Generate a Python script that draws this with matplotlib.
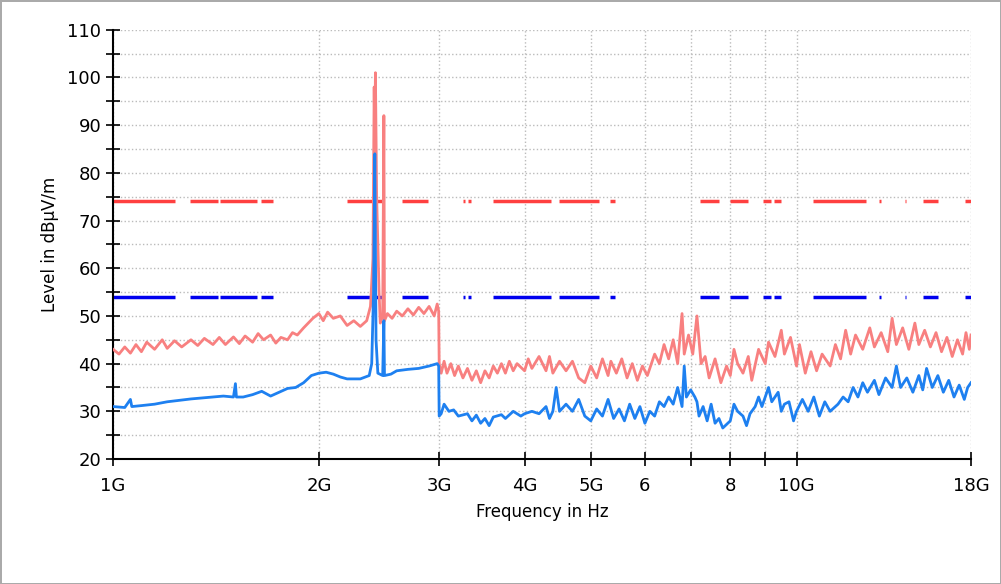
import numpy as np
import matplotlib
matplotlib.use('Agg')
import matplotlib.pyplot as plt
from matplotlib.ticker import FixedLocator, NullLocator

# peak trace (GHz, dBuV/m)
peak_f = [1.0, 1.02, 1.04, 1.06, 1.08, 1.1, 1.12, 1.15, 1.18, 1.2, 1.23, 1.26, 1.3, 1.33, 1.36, 1.4, 1.43, 1.46,
          1.5, 1.53, 1.56, 1.6, 1.63, 1.66, 1.7, 1.73, 1.76, 1.8, 1.83, 1.86, 1.9, 1.93, 1.96, 2.0, 2.03, 2.06,
          2.1, 2.15, 2.2, 2.25, 2.3, 2.35, 2.38, 2.40, 2.41, 2.415, 2.42, 2.43, 2.44, 2.45, 2.46, 2.48, 2.49,
          2.495, 2.52, 2.56, 2.6, 2.65, 2.7, 2.75, 2.8, 2.85, 2.9, 2.95, 2.98, 2.995, 3.0, 3.02, 3.05, 3.08,
          3.12, 3.16, 3.2, 3.25, 3.3, 3.35, 3.4, 3.45, 3.5, 3.55, 3.6, 3.65, 3.7, 3.75, 3.8, 3.85, 3.9, 4.0,
          4.05, 4.1, 4.2, 4.3, 4.35, 4.4, 4.5, 4.6, 4.7, 4.8, 4.9, 5.0, 5.1, 5.2, 5.3, 5.35, 5.45, 5.55, 5.65,
          5.75, 5.85, 5.95, 6.05, 6.2, 6.3, 6.4, 6.5, 6.6, 6.7, 6.8, 6.85, 6.95, 7.05, 7.15, 7.25, 7.35, 7.45,
          7.6, 7.75, 7.9, 8.0, 8.1, 8.2, 8.35, 8.5, 8.6, 8.8, 9.0, 9.1, 9.3, 9.5, 9.6, 9.8, 10.0, 10.1, 10.3,
          10.5, 10.7, 10.9, 11.2, 11.4, 11.6, 11.8, 12.0, 12.2, 12.5, 12.8, 13.0, 13.3, 13.6, 13.8, 14.0, 14.3,
          14.6, 14.9, 15.1, 15.4, 15.7, 16.0, 16.3, 16.6, 16.9, 17.2, 17.5, 17.7, 17.9, 18.0]
peak_v = [43, 42, 43.5, 42.2, 44, 42.5, 44.5, 43, 45, 43.2, 44.8, 43.5, 45, 43.8, 45.3, 44, 45.5, 44,
          45.6, 44.2, 45.8, 44.5, 46.3, 45, 46, 44.3, 45.5, 45, 46.5, 46, 47.5, 48.5, 49.5, 50.5, 49, 50.8,
          49.5, 50, 48, 49, 47.8, 49, 52, 62, 98, 85, 101, 75, 65, 55, 48.5, 50, 92,
          49, 50.5, 49.5, 51, 50, 51.5, 50.2, 51.8, 50.5, 52, 50, 52.5, 51, 40, 38, 40.5, 38,
          40, 37.5, 39.5, 37, 39, 36.5, 38.5, 36, 38.5, 37, 39.5, 38, 40, 38, 40.5, 38.5, 40, 38.5,
          41, 39, 41.5, 38.5, 41.5, 38, 40.5, 38.5, 40.5, 37, 36, 39.5, 37, 41, 37.5, 40.5, 38, 41, 37,
          40, 36.5, 39.5, 37.5, 42, 40, 44, 41, 45, 40, 50.5, 42, 46, 42, 50, 40, 41.5, 37,
          41, 36, 39.5, 37.5, 43, 40, 38, 41.5, 36.5, 43, 40, 44.5, 41.5, 47, 42, 45.5, 39.5, 44, 38,
          42.5, 38.5, 42, 39.5, 44, 41, 47, 42, 46, 43, 47.5, 43.5, 46.5, 42.5, 49.5, 44, 47.5,
          43, 48.5, 44, 47, 43.5, 46.5, 42.5, 45.5, 41.5, 45, 42, 46.5, 43, 46]

# average trace
avg_f = [1.0, 1.04, 1.06, 1.065, 1.1, 1.15, 1.2, 1.25, 1.3, 1.35, 1.4, 1.45, 1.5, 1.51, 1.515, 1.55, 1.6,
         1.65, 1.7, 1.75, 1.8, 1.85, 1.9, 1.95, 2.0, 2.05, 2.1, 2.15, 2.2, 2.3, 2.37, 2.39, 2.405, 2.415,
         2.425, 2.44, 2.48, 2.49, 2.495, 2.55, 2.6, 2.7, 2.8, 2.9, 2.98, 2.995, 3.0, 3.02, 3.05, 3.1, 3.15,
         3.2, 3.3, 3.35, 3.4, 3.45, 3.5, 3.55, 3.6, 3.7, 3.75, 3.85, 3.95, 4.0, 4.1, 4.2, 4.3, 4.35, 4.4,
         4.45, 4.5, 4.6, 4.7, 4.8, 4.9, 5.0, 5.1, 5.2, 5.3, 5.4, 5.5, 5.6, 5.7, 5.8, 5.9, 6.0, 6.1, 6.2,
         6.3, 6.4, 6.5, 6.6, 6.7, 6.8, 6.85, 6.9, 7.0, 7.1, 7.15, 7.2, 7.3, 7.4, 7.5, 7.6, 7.7, 7.8, 8.0,
         8.1, 8.2, 8.35, 8.45, 8.55, 8.7, 8.8, 8.9, 9.1, 9.2, 9.4, 9.5, 9.6, 9.75, 9.9, 10.0, 10.2, 10.4,
         10.6, 10.8, 11.0, 11.2, 11.5, 11.7, 11.9, 12.1, 12.3, 12.5, 12.7, 13.0, 13.2, 13.5, 13.8, 14.0,
         14.2, 14.5, 14.8, 15.1, 15.3, 15.5, 15.8, 16.1, 16.4, 16.7, 17.0, 17.3, 17.6, 17.8, 18.0]
avg_v = [31, 30.8, 32.5, 31, 31.2, 31.5, 32, 32.3, 32.6, 32.8, 33, 33.2, 33, 35.8, 33, 33, 33.5,
         34.2, 33.2, 34, 34.8, 35, 36, 37.5, 38, 38.2, 37.8, 37.2, 36.8, 36.8, 37.5, 40, 55, 84,
         45, 38, 37.5, 49, 37.5, 37.8, 38.5, 38.8, 39, 39.5, 40, 39.5, 29, 29.5, 31.5, 30, 30.3,
         29, 29.5, 28, 29.2, 27.5, 28.5, 27, 28.8, 29.3, 28.5, 30, 29, 29.5, 30, 29.5, 31, 28.5, 30,
         35, 30, 31.5, 30, 32.5, 29, 28, 30.5, 29, 32.5, 28.5, 30.5, 28, 31.5, 28.5, 31, 27.5, 30, 29,
         32, 31, 33, 31.5, 35, 31, 39.5, 33, 34.5, 33, 32, 29, 31, 28, 31.5, 27.5, 28.5, 26.5, 28,
         31.5, 30, 29, 27, 29.5, 31, 33, 31, 35, 32, 34, 30, 31.5, 32, 28, 30, 32.5, 30,
         33, 29, 32, 30, 31.5, 33, 32, 35, 33, 36, 34, 36.5, 33.5, 37, 35, 39.5,
         35, 37, 34, 37.5, 34.5, 39, 35, 37.5, 34, 36.5, 33, 35.5, 32.5, 35, 36]

# limit line segments (GHz), same pattern for peak and average limits
limit_segs = [(1.0, 1.232), (1.296, 1.424), (1.434, 1.624), (1.646, 1.714), (2.200, 2.393), (2.409, 2.483),
              (2.648, 2.890), (3.252, 3.273), (3.306, 3.340), (3.597, 4.374), (4.494, 5.142), (5.336, 5.427),
              (7.225, 7.70), (7.99, 8.49), (8.93, 9.18), (9.27, 9.49), (10.57, 12.64), (13.20, 13.29),
              (14.41, 14.46), (15.31, 16.11), (17.64, 18.0)]
peak_limit = 74
avg_limit = 54

fig = plt.figure(figsize=(10.01, 5.84), dpi=100)
fig.patch.set_edgecolor('#aaaaaa')
fig.patch.set_linewidth(2)
ax = fig.add_axes([0.113, 0.214, 0.857, 0.735])

ax.plot(peak_f, peak_v, color='#f88080', lw=2, zorder=3)
ax.plot(avg_f, avg_v, color='#1e80f0', lw=2, zorder=4)
for a, b in limit_segs:
    ax.plot([a, b], [peak_limit, peak_limit], color='#ff4040', lw=2.5, solid_capstyle='butt', zorder=2)
    ax.plot([a, b], [avg_limit, avg_limit], color='#0000ee', lw=2.5, solid_capstyle='butt', zorder=2)

ax.set_xscale('log')
ax.set_xlim(1, 18)
ax.set_ylim(20, 110)
xt = [1, 2, 3, 4, 5, 6, 7, 8, 9, 10, 18]
xl = ['1G', '2G', '3G', '4G', '5G', '6', '', '8', '', '10G', '18G']
ax.xaxis.set_major_locator(FixedLocator(xt))
ax.set_xticklabels(xl)
ax.xaxis.set_minor_locator(NullLocator())
ax.set_yticks(np.arange(20, 111, 10))
ax.set_yticks(np.arange(25, 110, 10), minor=True)
ax.tick_params(axis='both', which='both', direction='inout', length=10, width=1.2, labelsize=13)
ax.tick_params(axis='x', pad=8)
ax.grid(True, which='both', color='#bbbbbb', linestyle=':', lw=1)
ax.spines['top'].set_visible(False)
ax.spines['right'].set_visible(False)
ax.spines['left'].set_linewidth(1.5)
ax.spines['bottom'].set_linewidth(1.5)
ax.set_xlabel('Frequency in Hz', fontsize=12, labelpad=6)
ax.set_ylabel('Level in dBµV/m', fontsize=12, labelpad=6)

fig.savefig('out.png', dpi=100)
